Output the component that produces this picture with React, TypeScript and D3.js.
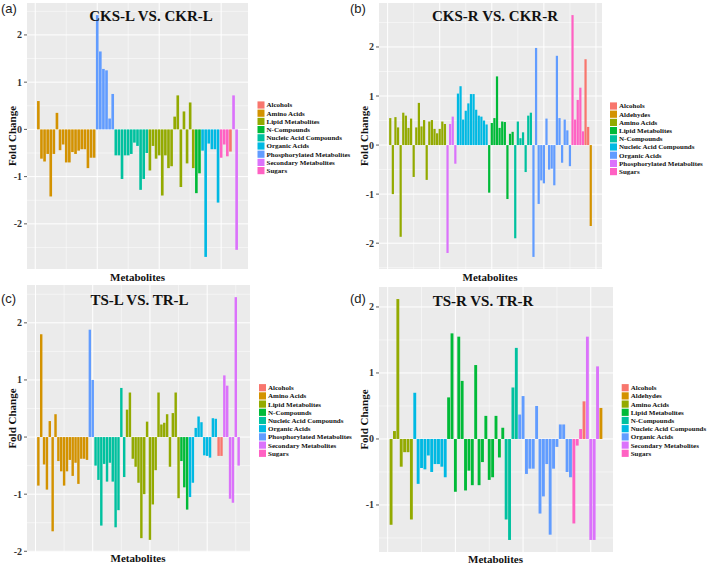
import React from "react";
import * as d3 from "d3";

// ggplot2 hue palette (9 levels)
const hue9 = ["#F8766D", "#D39200", "#93AA00", "#00BA38", "#00C19F", "#00B9E3", "#619CFF", "#DB72FB", "#FF61C3"];

const legendA = ["Alcohols", "Amino Acids", "Lipid Metabolites", "N-Compounds", "Nucleic Acid Compounds", "Organic Acids", "Phosphorylated Metabolites", "Secondary Metabolites", "Sugars"];
const legendB = ["Alcohols", "Aldehydes", "Amino Acids", "Lipid Metabolites", "N-Compounds", "Nucleic Acid Compounds", "Organic Acids", "Phosphorylated Metabolites", "Sugars"];
const legendC = legendA;
const legendD = ["Alcohols", "Aldehydes", "Amino Acids", "Lipid Metabolites", "N-Compounds", "Nucleic Acid Compounds", "Organic Acids", "Secondary Metabolites", "Sugars"];

const yTicksAB = [-2, -1, 0, 1, 2];
const yTicksD = [-1, 0, 1, 2];

type Group = [string, number[]];

// (a) CKS-L VS. CKR-L
const groupsA: Group[] = [
  ["Amino Acids", [0.6, -0.62, -0.68, -0.52, -1.42, -0.52, 0.35, -0.44, -0.32, -0.7, -0.7, -0.48, -0.52, -0.45, -0.42, -0.42, -0.82, -0.6, -0.6]],
  ["Phosphorylated Metabolites", [2.42, 1.65, 1.28, 1.25, 0.23, 0.75]],
  ["Nucleic Acid Compounds", [-0.55, -0.55, -1.05, -0.55, -0.55, -0.52, -0.28, -0.35, -1.28, -1.05, -0.5]],
  ["Lipid Metabolites", [-0.87, -0.35, -0.62, -0.55, -1.4, -0.55, -0.82, -0.78, 0.27, 0.72, -1.22, 0.38, -0.72, 0.57, -0.82]],
  ["N-Compounds", [-1.35, -0.93]],
  ["Organic Acids", [-0.45, -2.7, -0.3, -0.42, -0.42, -1.55]],
  ["Sugars", [-0.6, -0.32, -0.57]],
  ["Alcohols", [-0.47]],
  ["Secondary Metabolites", [0.72, -2.55]],
];

// (b) CKS-R VS. CKR-R
const groupsB: Group[] = [
  ["Amino Acids", [0.55, -1.0, 0.57, 0.36, -1.87, 0.66, 0.6, 0.35, 0.54, -0.65, 0.36, 0.86, 0.38, 0.51, -0.71, 0.48, 0.51, 0.33, 0.24, 0.33, 0.48, 0.43]],
  ["Phosphorylated Metabolites", [-2.2, 0.43, 0.58, -0.38]],
  ["Nucleic Acid Compounds", [1.05, 1.2, 0.52, 0.7, 0.85, 1.04, 1.04, 0.72, 0.6, 0.58, 0.5, 0.42]],
  ["Lipid Metabolites", [-0.97, 0.45, 0.55, 1.4, 0.35, 0.48, 0.47, -1.1, 0.23, 0.27]],
  ["N-Compounds", [-1.9, 0.48, 0.14, 0.26, -0.55, 0.6, 0.66]],
  ["Organic Acids", [-2.28, 1.98, -1.2, -0.72, -0.78, 0.54, -0.5, -0.48, -0.82, 1.82, 0.55, -0.36, 0.52, 0.3, -0.43]],
  ["Sugars", [2.65, 0.52, 0.92, 1.17, 0.28]],
  ["Alcohols", [1.75, 0.37]],
  ["Aldehydes", [-1.65]],
];

// (c) TS-L VS. TR-L
const groupsC: Group[] = [
  ["Amino Acids", [-0.85, 1.8, -0.48, -0.92, 0.28, -1.65, 0.4, -0.42, -0.6, -0.85, -0.6, -0.4, -0.68, -0.45, -0.82, -0.38, -0.38, -0.4]],
  ["Phosphorylated Metabolites", [1.88, 1.0]],
  ["Nucleic Acid Compounds", [-0.5, -0.75, -1.55, -0.47, -0.78, -0.45, -0.78, -1.58, -1.28, 0.86, -0.7]],
  ["Lipid Metabolites", [0.48, 0.78, -0.38, -0.52, -0.8, -1.77, -1.0, 0.27, -1.8, -1.18, -0.58, 0.78, 0.22, 0.25, 0.4, -0.52, 0.42, 0.78, -1.07]],
  ["N-Compounds", [-0.42, -0.88, -1.27]],
  ["Organic Acids", [-1.05, -0.8, 0.16, 0.36, 0.26, -0.32, -0.33, -0.36, 0.33, 0.32]],
  ["Alcohols", [-0.33, -0.33]],
  ["Secondary Metabolites", [1.08, 0.9, -1.08, -1.15, 2.45, -0.5]],
];

// (d) TS-R VS. TR-R
const groupsD: Group[] = [
  ["Amino Acids", [-1.3, 0.12, 2.12, -0.42, -0.2, -0.2, -1.22]],
  ["Nucleic Acid Compounds", [0.7, -0.68, -0.44, -0.46, -0.25, -0.5, -0.38, -0.38, -0.42, -0.58]],
  ["Lipid Metabolites", [0.63, 1.6, -0.8, 1.55, 0.88, -0.78, -0.48, -0.7, 1.12, -0.7, -0.35, 0.35, -0.62, -0.58, 0.35, -0.28, 0.17]],
  ["N-Compounds", [-1.22, -1.53, 0.78, 1.38]],
  ["Organic Acids", [0.37, 0.65, -0.53, -0.45, -0.45, 0.5, -1.13, -0.87, -0.38, -1.45, -0.45, -0.12, 0.22, 0.22, -0.5, -0.58]],
  ["Sugars", [-1.28, -0.1, 0.15]],
  ["Alcohols", [0.57]],
  ["Secondary Metabolites", [1.55, -1.53, -1.53, 1.1]],
  ["Aldehydes", [0.47]],
];

const SERIF = "'Liberation Serif', 'Times New Roman', serif";
const SANS = "'Liberation Sans', Arial, sans-serif";

interface PanelProps {
  groups: Group[];
  legend: string[];
  yTicks: number[];
  title: string;
  tag: string;
  plot: { x0: number; x1: number; y0: number; y1: number };
  titleX: number;
  titleY: number;
  tagX: number;
  tagY: number;
  axisTitleX: number;
  xLabelX: number;
  xLabelY: number;
  legendX: number;
  legendY: number;
}

function Panel(p: PanelProps) {
  const bars: { i: number; v: number; cat: string }[] = [];
  p.groups.forEach(([cat, vals]) => vals.forEach((v) => bars.push({ i: bars.length + 1, v, cat })));
  const n = bars.length;
  const bw = 0.85;
  const dataX0 = 1 - bw / 2;
  const dataX1 = n + bw / 2;
  const ex = (dataX1 - dataX0) * 0.05;
  const x = d3.scaleLinear().domain([dataX0 - ex, dataX1 + ex]).range([p.plot.x0, p.plot.x1]);
  const vmin = d3.min(bars, (b) => b.v) as number;
  const vmax = d3.max(bars, (b) => b.v) as number;
  const ey = (vmax - vmin) * 0.05;
  const y = d3.scaleLinear().domain([vmin - ey, vmax + ey]).range([p.plot.y1, p.plot.y0]);
  const color = d3.scaleOrdinal<string, string>().domain(p.legend).range(hue9);

  const [dx0, dx1] = x.domain();
  const xMajor = d3.range(Math.ceil(dx0 / 20) * 20, dx1, 20);
  const xMinor = d3.range(Math.ceil(dx0 / 10) * 10, dx1, 10).filter((t) => t % 20 !== 0);
  const [dy0, dy1] = y.domain();
  const yMinor = d3.range(Math.ceil(dy0 * 2) / 2, dy1, 0.5).filter((t) => Math.abs(t % 1) > 0.01);

  const { x0, x1, y0, y1 } = p.plot;
  return (
    <g>
      <rect x={x0} y={y0} width={x1 - x0} height={y1 - y0} fill="#EBEBEB" />
      {yMinor.map((t) => (
        <line key={"ym" + t} x1={x0} x2={x1} y1={y(t)} y2={y(t)} stroke="#fff" strokeWidth={0.5} />
      ))}
      {xMinor.map((t) => (
        <line key={"xm" + t} x1={x(t)} x2={x(t)} y1={y0} y2={y1} stroke="#fff" strokeWidth={0.5} />
      ))}
      {p.yTicks.map((t) => (
        <line key={"yM" + t} x1={x0} x2={x1} y1={y(t)} y2={y(t)} stroke="#fff" strokeWidth={1} />
      ))}
      {xMajor.map((t) => (
        <line key={"xM" + t} x1={x(t)} x2={x(t)} y1={y0} y2={y1} stroke="#fff" strokeWidth={1} />
      ))}
      {bars.map((b) => (
        <rect
          key={b.i}
          x={x(b.i - bw / 2)}
          width={x(b.i + bw / 2) - x(b.i - bw / 2)}
          y={Math.min(y(0), y(b.v))}
          height={Math.abs(y(b.v) - y(0))}
          fill={color(b.cat)}
        />
      ))}
      {p.yTicks.map((t) => (
        <g key={"t" + t}>
          <line x1={x0 - 3} x2={x0} y1={y(t)} y2={y(t)} stroke="#333" strokeWidth={0.8} />
          <text x={x0 - 5} y={y(t)} dy="0.35em" textAnchor="end" fontFamily={SERIF} fontWeight="bold" fontSize={10} fill="#333">
            {t}
          </text>
        </g>
      ))}
      <text x={p.titleX} y={p.titleY} textAnchor="middle" fontFamily={SERIF} fontWeight="bold" fontSize={15} fill="#111">
        {p.title}
      </text>
      <text x={p.tagX} y={p.tagY} fontFamily={SANS} fontSize={13} fill="#222">
        {p.tag}
      </text>
      <text
        transform={`translate(${p.axisTitleX},${(y0 + y1) / 2}) rotate(-90)`}
        textAnchor="middle"
        dy="0.35em"
        fontFamily={SERIF}
        fontWeight="bold"
        fontSize={11}
        fill="#111"
      >
        Fold Change
      </text>
      <text x={p.xLabelX} y={p.xLabelY} textAnchor="middle" fontFamily={SERIF} fontWeight="bold" fontSize={11} fill="#111">
        Metabolites
      </text>
      {p.legend.map((name, k) => (
        <g key={name} transform={`translate(${p.legendX},${p.legendY + k * 8.2})`}>
          <rect x={0} y={-3.6} width={7} height={7.2} fill={hue9[k]} />
          <text x={9} y={0} dy="0.35em" fontFamily={SERIF} fontWeight="bold" fontSize={7} fill="#111">
            {name}
          </text>
        </g>
      ))}
    </g>
  );
}

export default function App() {
  return (
    <svg width={709} height={576} style={{ position: "absolute", left: 0, top: 0, background: "#fff" }}>
      <Panel
        groups={groupsA}
        legend={legendA}
        yTicks={yTicksAB}
        title="CKS-L VS. CKR-L"
        tag="(a)"
        plot={{ x0: 27, x1: 248, y0: 3, y1: 269 }}
        titleX={151}
        titleY={21}
        tagX={1}
        tagY={13}
        axisTitleX={12}
        xLabelX={137.5}
        xLabelY={281}
        legendX={257.5}
        legendY={105}
      />
      <Panel
        groups={groupsB}
        legend={legendB}
        yTicks={yTicksAB}
        title="CKS-R VS. CKR-R"
        tag="(b)"
        plot={{ x0: 379, x1: 602, y0: 3, y1: 269 }}
        titleX={495}
        titleY={21}
        tagX={350}
        tagY={13}
        axisTitleX={364}
        xLabelX={490}
        xLabelY={281}
        legendX={610}
        legendY={106}
      />
      <Panel
        groups={groupsC}
        legend={legendC}
        yTicks={yTicksAB}
        title="TS-L VS. TR-L"
        tag="(c)"
        plot={{ x0: 27, x1: 250, y0: 285, y1: 552 }}
        titleX={139.5}
        titleY={305}
        tagX={1}
        tagY={303}
        axisTitleX={12}
        xLabelX={138}
        xLabelY={562}
        legendX={259}
        legendY={387.7}
      />
      <Panel
        groups={groupsD}
        legend={legendD}
        yTicks={yTicksD}
        title="TS-R VS. TR-R"
        tag="(d)"
        plot={{ x0: 379, x1: 613, y0: 287, y1: 552 }}
        titleX={483}
        titleY={306}
        tagX={350}
        tagY={303}
        axisTitleX={364}
        xLabelX={495.5}
        xLabelY={563}
        legendX={621.7}
        legendY={387.7}
      />
    </svg>
  );
}
